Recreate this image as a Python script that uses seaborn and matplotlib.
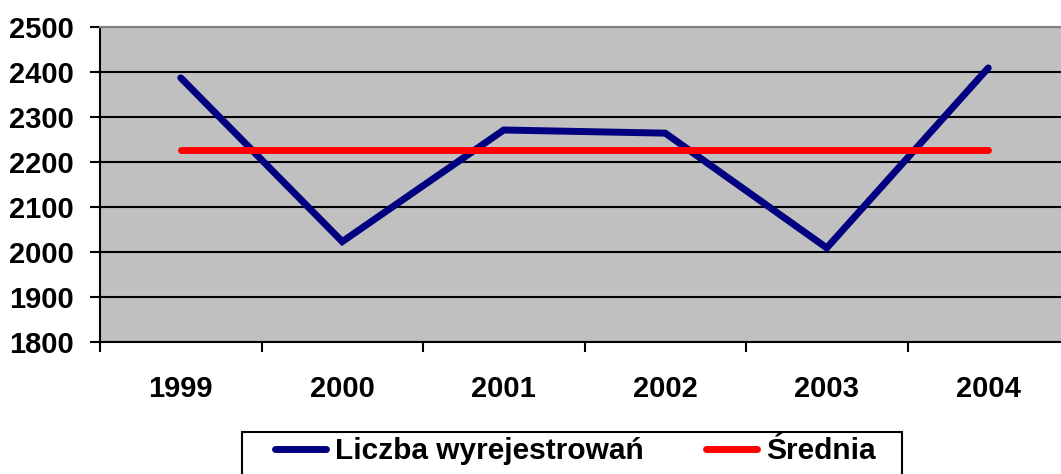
import numpy as np
import pandas as pd
import matplotlib
matplotlib.use("Agg")
import matplotlib.pyplot as plt
import matplotlib.patches as mpatches
import seaborn as sns

# Values
years = ["1999", "2000", "2001", "2002", "2003", "2004"]
wyrejestrowania = [2386, 2022, 2270, 2263, 2008, 2408]
srednia = [2226, 2226, 2226, 2226, 2226, 2226]

sns.set_theme(style="white")
plt.rcParams['font.family'] = ['Liberation Sans', 'DejaVu Sans']
plt.rcParams['font.weight'] = 'bold'
plt.rcParams['text.color'] = 'black'
plt.rcParams['xtick.color'] = 'black'
plt.rcParams['ytick.color'] = 'black'

df = pd.DataFrame({"Rok": years, "Liczba wyrejestrowań": wyrejestrowania, "Średnia": srednia})
mData = pd.melt(df, "Rok", var_name="Seria", value_name="Wartość")

fig = plt.figure(figsize=(10.61, 4.74), dpi=100)
# plot area runs a bit past the right edge, like in the original
ax = fig.add_axes([100 / 1061, 132.5 / 474, 969 / 1061, 315 / 474])
ax.set_facecolor("#C0C0C0")

sns.lineplot(data=mData, x="Rok", y="Wartość", hue="Seria",
             palette={"Liczba wyrejestrowań": "#000080", "Średnia": "#FF0000"},
             linewidth=5, ax=ax, legend=False, sort=False)
for line in ax.get_lines():
    line.set_solid_capstyle("round")
    line.set_solid_joinstyle("miter")

ax.set_xlim(-0.5, 5.5)
ax.set_ylim(1800, 2500)
ax.set_yticks(np.arange(1800, 2501, 100))
ax.yaxis.grid(True, color="black", linewidth=1.5)
ax.set_axisbelow(True)

# ticks between categories, labels in the middle
ax.set_xticks(np.arange(-0.5, 6, 1))
ax.set_xticklabels([])
ax.set_xticks(np.arange(6), minor=True)
ax.set_xticklabels(years, minor=True, fontsize=21, fontweight="bold")
ax.tick_params(axis="x", which="major", direction="out", length=7, width=1.5, bottom=True)
ax.tick_params(axis="x", which="minor", length=0, pad=24)
ax.tick_params(axis="y", direction="out", length=7, width=1.5, left=True, pad=12)
for lbl in ax.get_yticklabels():
    lbl.set_fontsize(21)
    lbl.set_fontweight("bold")

ax.set_xlabel("")
ax.set_ylabel("")
for side in ["left", "bottom"]:
    ax.spines[side].set_color("black")
    ax.spines[side].set_linewidth(1.5)
ax.spines["top"].set_color("#808080")
ax.spines["top"].set_linewidth(1.5)
ax.spines["right"].set_visible(False)

# Legend below the chart, box drawn by hand so it can run off the bottom
box = mpatches.Rectangle((242 / 1061, -0.05), 660 / 1061, 0.05 + 1 - 432 / 474,
                         transform=fig.transFigure, fill=False,
                         edgecolor="black", linewidth=1.5)
fig.patches.append(box)

handles = [plt.Line2D([], [], color="#000080", linewidth=5, solid_capstyle="round"),
           plt.Line2D([], [], color="#FF0000", linewidth=5, solid_capstyle="round")]
leg = fig.legend(handles, ["Liczba wyrejestrowań", "Średnia"], ncol=2,
                 loc="upper left", bbox_to_anchor=(275 / 1061, 1 - 437 / 474),
                 prop={"size": 21.5, "weight": "bold"},
                 frameon=False, handlelength=1.7, handletextpad=0.3,
                 columnspacing=2.1, borderpad=0, borderaxespad=0)

fig.savefig("out.png", dpi=100)
